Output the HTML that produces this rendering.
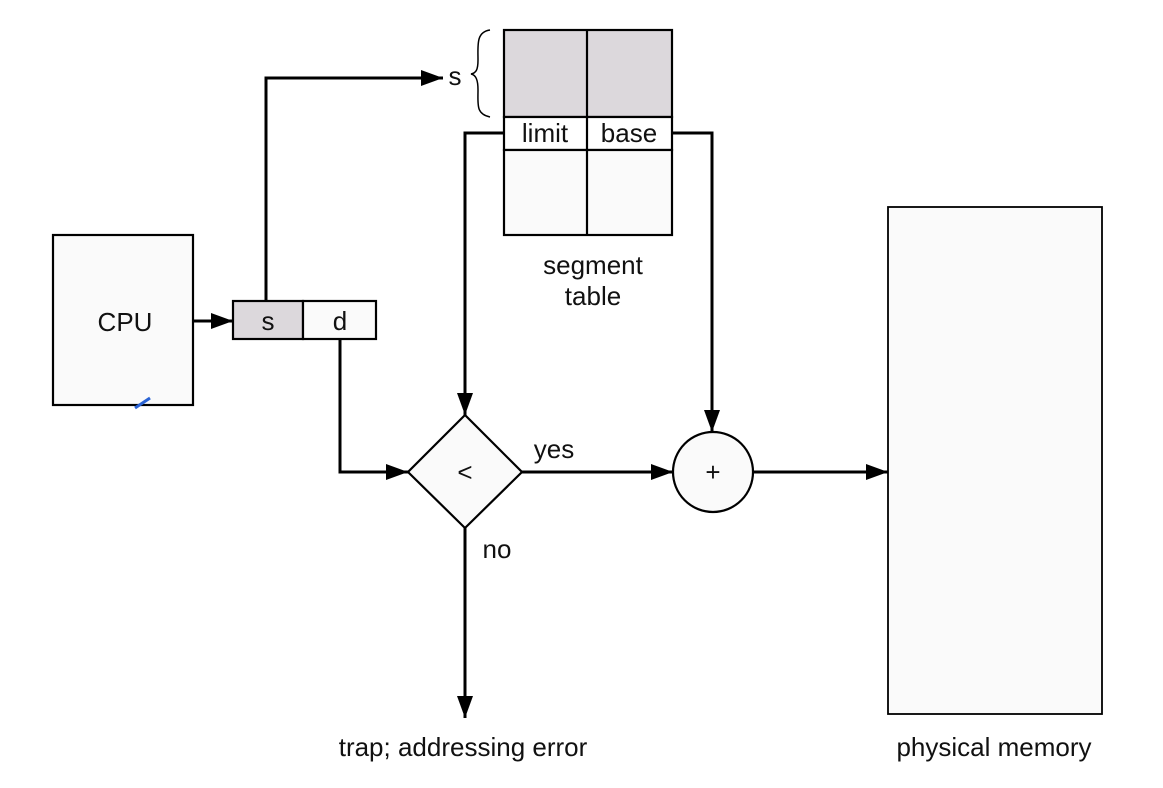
<!DOCTYPE html>
<html><head><meta charset="utf-8"><style>html,body{margin:0;padding:0;background:#fff}svg{display:block}text{font-family:"Liberation Sans",sans-serif;fill:#111}</style></head><body>
<svg width="1163" height="788" viewBox="0 0 1163 788" xmlns="http://www.w3.org/2000/svg">
<defs>
<marker id="b" viewBox="0 0 22 16" refX="22" refY="8" markerWidth="22" markerHeight="16" orient="auto" markerUnits="userSpaceOnUse"><path d="M0,0 L22,8 L0,16 z" fill="#000"/></marker></defs>
<g stroke="#000" stroke-width="2.2" fill="none">
<rect x="53" y="235" width="140" height="170" fill="#fafafa"/>
<rect x="233" y="301" width="70" height="38" fill="#dcd8dc"/>
<rect x="303" y="301" width="73" height="38" fill="#fafafa"/>
<rect x="504" y="30" width="168" height="87" fill="#dcd8dc"/>
<rect x="504" y="117" width="168" height="33" fill="#fff"/>
<rect x="504" y="150" width="168" height="85" fill="#fafafa"/>
<line x1="587" y1="30" x2="587" y2="235"/>
<rect x="888" y="207" width="214" height="507" fill="#fafafa" stroke-width="1.8"/>
<polygon points="465,415 522,472 465,528 408,472" fill="#fafafa"/>
<circle cx="713" cy="472" r="40" fill="#fafafa"/>
<path d="M490,30 C476,32 478,45 478,60 C478,70 476,73 471,74 C476,75 478,80 478,90 C478,105 476,114 490,117" stroke-width="1.5"/>
</g>
<g stroke="#000" stroke-width="3" fill="none">
<path d="M193,321 H233" marker-end="url(#b)"/>
<path d="M266,301 V78 H443" marker-end="url(#b)"/>
<path d="M504,133 H465 V415" marker-end="url(#b)"/>
<path d="M672,133 H712 V432" marker-end="url(#b)"/>
<path d="M340,339 V472 H408" marker-end="url(#b)"/>
<path d="M522,472 H673" marker-end="url(#b)"/>
<path d="M753,472 H888" marker-end="url(#b)"/>
<path d="M465,528 V718" marker-end="url(#b)"/>
</g>
<path d="M135,408 L150,398" stroke="#2a63d4" stroke-width="3"/>
<g font-size="26" text-anchor="middle">
<text x="125" y="331">CPU</text>
<text x="268" y="330">s</text>
<text x="340" y="330">d</text>
<text x="455" y="85">s</text>
<text x="545" y="142">limit</text>
<text x="629" y="142">base</text>
<text x="593" y="274">segment</text>
<text x="593" y="305">table</text>
<text x="465" y="481">&lt;</text>
<text x="713" y="481">+</text>
<text x="554" y="458">yes</text>
<text x="497" y="558">no</text>
<text x="463" y="756">trap; addressing error</text>
<text x="994" y="756">physical  memory</text>
</g>
</svg>
</body></html>
